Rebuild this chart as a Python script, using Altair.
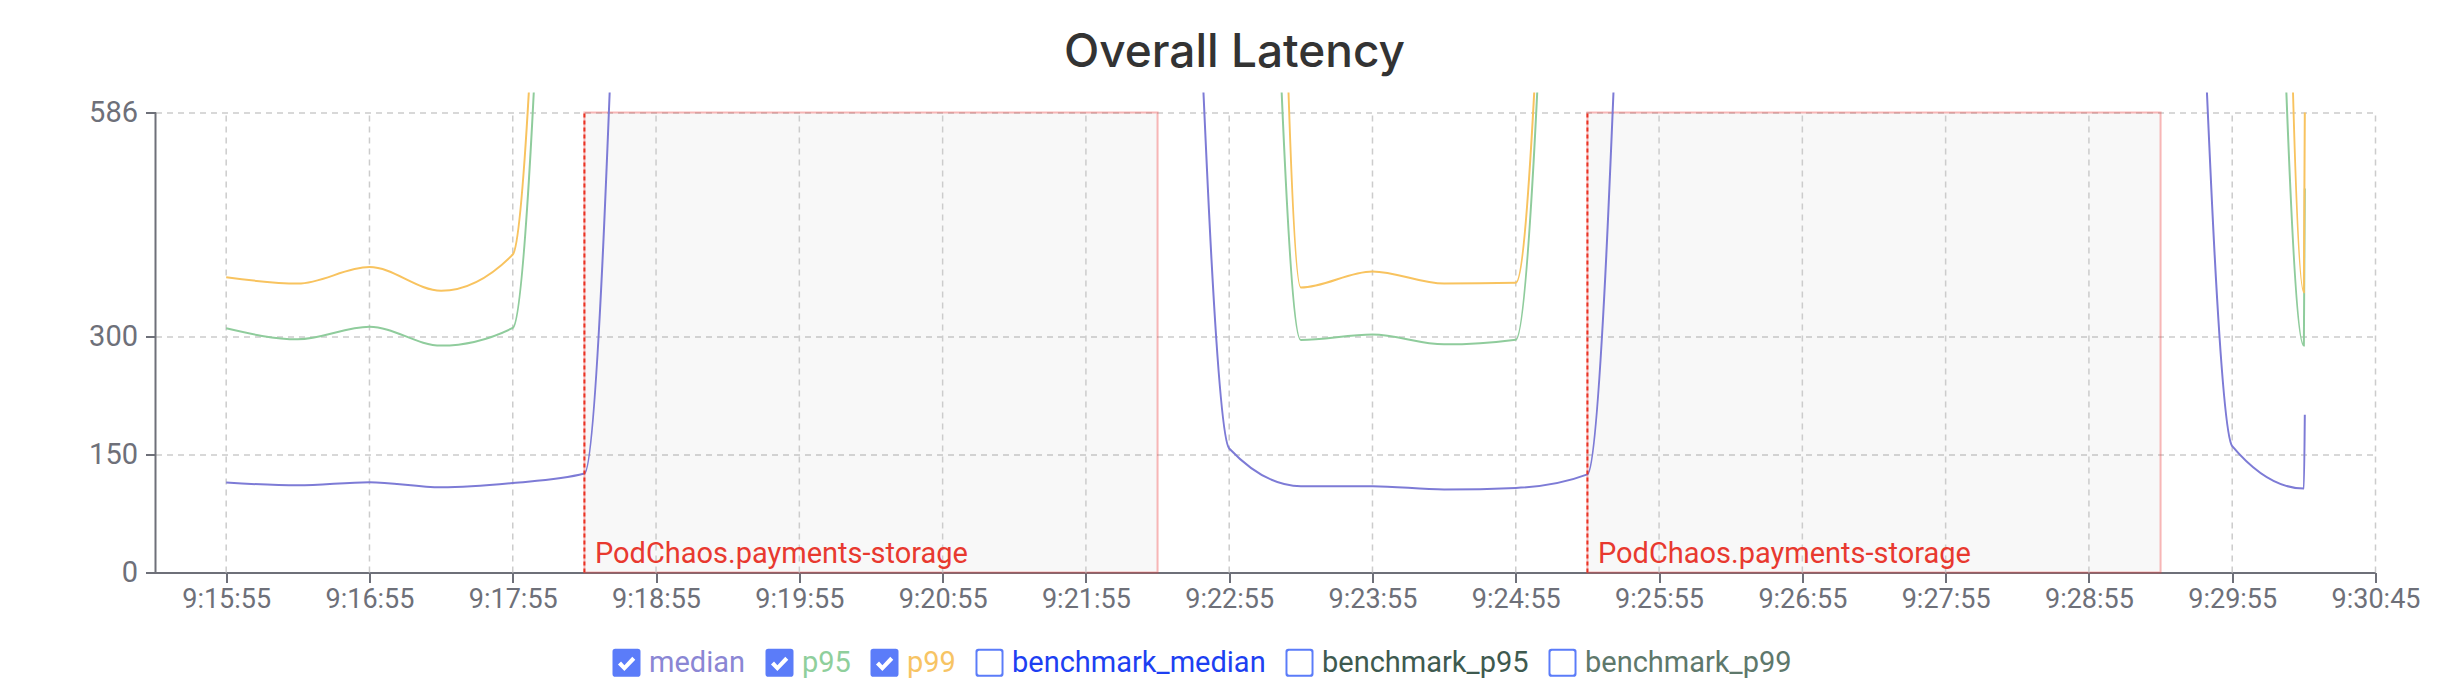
import altair as alt
import pandas as pd

# ---------------- data ----------------
# sample times, seconds after 9:15:55 (one sample every 30 s, last one just after 9:30:25)
sample_seconds = [0, 30, 60, 90, 120, 150, 180, 210, 240, 270, 300, 330, 360, 390,
                  420, 450, 480, 510, 540, 570, 600, 630, 660, 690, 720, 750, 780, 810,
                  840, 870, 870.4]

median = [114.6, 111, 115, 108.5, 114, 126,
          1806, 1806, 1760, 1720, 1680, 1642, 1642, 1642,
          158, 110, 110, 105.6, 107.7, 125,
          1719, 1719, 1700, 1690, 1685, 1675, 1675, 1675,
          161, 107, 201]

p95 = [311, 297, 313, 289, 311.5,
       1720, 1720, 1800, 1900, 2000, 2050, 2080, 2080, 2080, 2080,
       296, 303, 290.6, 296.6,
       1746, 1746, 1900, 2000, 2100, 2200, 2300, 2443, 2443, 2443,
       289, 489]

p99 = [376, 368, 389, 359, 405,
       1920, 1920, 2200, 2600, 3000, 3300, 3530, 3530, 3530, 3530,
       363, 383.5, 368, 369,
       1839, 1839, 2400, 3000, 3600, 4000, 4300, 4500, 4500, 4500,
       357, 586]

plotted_series = ["median", "p95", "p99"]
line_colors = ["#7d7bd6", "#8fcc9c", "#f8c35f"]

legend_series = ["median", "p95", "p99", "benchmark_median", "benchmark_p95", "benchmark_p99"]
legend_checked = [True, True, True, False, False, False]
legend_label_colors = ["#8a86d4", "#8fcf9c", "#f7c464", "#1d3ff2", "#3e5a4f", "#5e786b"]

# x axis ticks (seconds after 9:15:55) and their labels
tick_seconds = [0, 60, 120, 180, 240, 300, 360, 420, 480, 540, 600, 660, 720, 780, 840, 900]
tick_labels = ["9:15:55", "9:16:55", "9:17:55", "9:18:55", "9:19:55", "9:20:55", "9:21:55",
               "9:22:55", "9:23:55", "9:24:55", "9:25:55", "9:26:55", "9:27:55", "9:28:55",
               "9:29:55", "9:30:45"]
y_ticks = [0, 150, 300, 586]

# chaos experiments (seconds after 9:15:55)
chaos_start = [150, 570]
chaos_end = [390, 810]
chaos_label = ["PodChaos.payments-storage", "PodChaos.payments-storage"]

X_MIN, X_MAX = -29.6, 900
Y_MAX_AXIS = 586
Y_TOP = 611.4

# ---------------- tables ----------------
rows = []
for name, vals in zip(plotted_series, (median, p95, p99)):
    for t, v in zip(sample_seconds, vals):
        rows.append({"t": t, "value": v, "series": name})
lines_df = pd.DataFrame(rows)

chaos_df = pd.DataFrame({"start": chaos_start, "end": chaos_end, "label": chaos_label,
                         "y0": 0, "y1": Y_MAX_AXIS})
grid_df = pd.DataFrame({"t": tick_seconds, "y0": 0, "y1": Y_MAX_AXIS})
yaxis_df = pd.DataFrame({"t": [X_MIN], "y0": [0], "y1": [Y_MAX_AXIS]})
legend_df = pd.DataFrame({"key": legend_series, "t": 0, "value": 0})

# ---------------- scales / axes ----------------
AXIS_GRAY = "#6e7079"
x_scale = alt.Scale(domain=[X_MIN, X_MAX], nice=False, zero=False)
y_scale = alt.Scale(domain=[0, Y_TOP], nice=False, zero=True)

label_arr = "[" + ",".join("'%s'" % s for s in tick_labels) + "]"
x_axis = alt.Axis(values=tick_seconds, labelExpr=label_arr + "[round(datum.value/60)]",
                  grid=False, domain=True, domainColor=AXIS_GRAY, domainWidth=2,
                  ticks=True, tickColor=AXIS_GRAY, tickWidth=2, tickSize=10,
                  labelFont="Roboto", labelFontSize=27, labelColor=AXIS_GRAY,
                  labelPadding=4, labelFlush=False, labelOverlap=False, title=None)
y_axis = alt.Axis(values=y_ticks, grid=True, gridColor="#cccccc", gridDash=[6, 5], gridWidth=1.5,
                  domain=False, ticks=True, tickColor=AXIS_GRAY, tickWidth=2, tickSize=10,
                  labelFont="Roboto", labelFontSize=29, labelColor=AXIS_GRAY,
                  labelPadding=8, labelOverlap=False, title=None)


def X(field):
    return alt.X(field, type="quantitative", scale=x_scale, axis=x_axis)


def Y(field):
    return alt.Y(field, type="quantitative", scale=y_scale, axis=y_axis)


# ---------------- layers ----------------
chaos_rect = alt.Chart(chaos_df).mark_rect(
    fill="#000000", fillOpacity=0.027, stroke="#ef4444", strokeOpacity=0.38, strokeWidth=2
).encode(x=X("start"), x2="end", y=Y("y0"), y2="y1")

grid_rules = alt.Chart(grid_df).mark_rule(
    color="#cccccc", strokeDash=[6, 5], strokeWidth=1.5
).encode(x=X("t"), y=Y("y0"), y2="y1")

y_axis_line = alt.Chart(yaxis_df).mark_rule(color=AXIS_GRAY, strokeWidth=2).encode(
    x=X("t"), y=Y("y0"), y2="y1")

lines = alt.Chart(lines_df).mark_line(
    interpolate="monotone", strokeWidth=2, clip=True
).encode(
    x=X("t"), y=Y("value"),
    color=alt.Color("series:N", scale=alt.Scale(domain=plotted_series, range=line_colors), legend=None),
    detail="series:N",
)

chaos_start_rule = alt.Chart(chaos_df).mark_rule(
    color="#ea3323", strokeDash=[4, 3], strokeWidth=2
).encode(x=X("start"), y=Y("y0"), y2="y1")

chaos_text = alt.Chart(chaos_df).mark_text(
    align="left", baseline="alphabetic", dx=10.5, dy=-10,
    font="Roboto", fontSize=29, color="#e8392f"
).encode(x=X("start"), y=Y("y0"), text="label:N")

# legend (checkbox symbols, labels coloured like the series)
CHECKED = ("M -0.8 -1 L 0.8 -1 Q 1 -1 1 -0.8 L 1 0.8 Q 1 1 0.8 1 L -0.8 1 "
           "Q -1 1 -1 0.8 L -1 -0.8 Q -1 -1 -0.8 -1 Z "
           "M -0.608 0.125 L -0.15 0.59 L 0.628 -0.216 L 0.412 -0.424 L -0.15 0.17 L -0.392 -0.085 Z")
UNCHECKED = ("M -0.8 -1 L 0.8 -1 Q 1 -1 1 -0.8 L 1 0.8 Q 1 1 0.8 1 L -0.8 1 "
             "Q -1 1 -1 0.8 L -1 -0.8 Q -1 -1 -0.8 -1 Z "
             "M -0.74 -0.86 Q -0.86 -0.86 -0.86 -0.74 L -0.86 0.74 Q -0.86 0.86 -0.74 0.86 "
             "L 0.74 0.86 Q 0.86 0.86 0.86 0.74 L 0.86 -0.74 Q 0.86 -0.86 0.74 -0.86 Z")
shape_range = [CHECKED if c else UNCHECKED for c in legend_checked]
color_expr = "".join("datum.value === '%s' ? '%s' : " % (n, c)
                     for n, c in zip(legend_series, legend_label_colors)) + "'#333333'"

legend_layer = alt.Chart(legend_df).mark_point(
    filled=True, color="#5b7cf9", opacity=0
).encode(
    x=X("t"), y=Y("value"),
    shape=alt.Shape("key:N", scale=alt.Scale(domain=legend_series, range=shape_range),
                    legend=alt.Legend(orient="none", legendX=456.5, legendY=555.5,
                                      direction="horizontal", title=None, padding=0,
                                      symbolSize=784, symbolFillColor="#5b7cf9",
                                      symbolStrokeWidth=0, symbolOpacity=1,
                                      labelFont="Roboto", labelFontSize=29,
                                      labelColor=alt.ExprRef(color_expr),
                                      labelOffset=8, columnPadding=19, labelLimit=500)),
)

chart = alt.layer(
    chaos_rect, grid_rules, y_axis_line, lines, chaos_start_rule, chaos_text, legend_layer
).properties(
    width=2220, height=480,
    autosize=alt.AutoSizeParams(type="none"),
    padding={"left": 147.5, "top": 84.5, "right": 74.5, "bottom": 111.5},
    title=alt.TitleParams("Overall Latency", font="Inter", fontSize=46, fontWeight=500,
                          color="#333333", anchor="middle", dx=-31, offset=16),
    background="white",
).configure_view(stroke=None)

chart.save("out.html", embed_options={"renderer": "svg", "actions": False})
